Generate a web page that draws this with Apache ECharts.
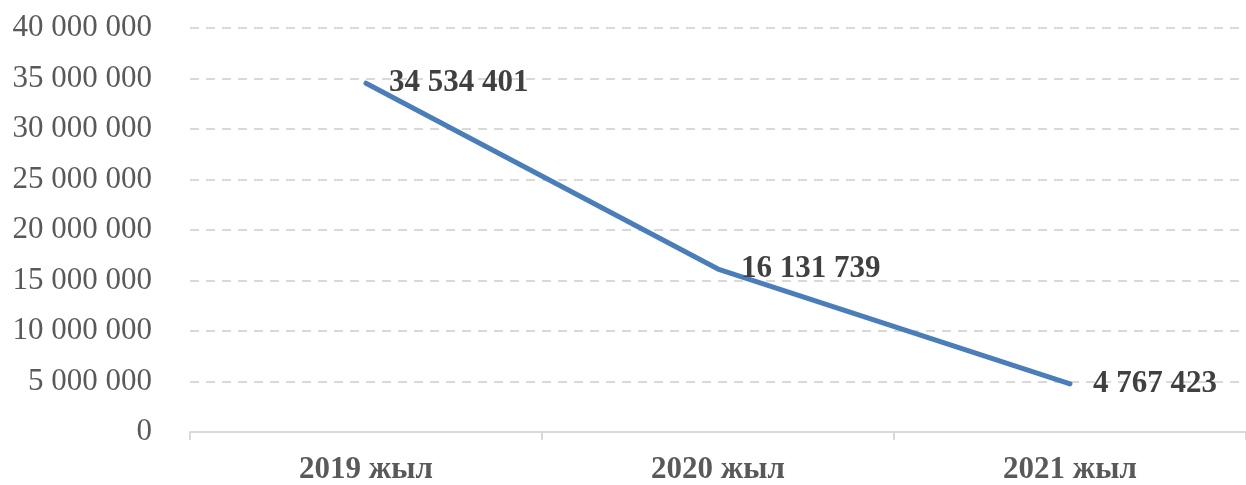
<!DOCTYPE html>
<html>
<head>
<meta charset="utf-8">
<script src="https://cdn.jsdelivr.net/npm/echarts@6/dist/echarts.min.js"></script>
<style>
  html, body { margin: 0; padding: 0; background: #fff; }
  #chart { width: 1246px; height: 485px; }
</style>
</head>
<body>
<div id="chart"></div>
<script>
const years = ["2019 жыл", "2020 жыл", "2021 жыл"];
const values = [34534401, 16131739, 4767423];

//format numbers with spaces as thousands separator
function spaced(n) {
    return String(n).replace(/\B(?=(\d{3})+(?!\d))/g, " ");
}

const chart = echarts.init(document.getElementById("chart"), null, { renderer: "canvas" });

const option = {
    animation: false,
    grid: { left: 190, right: -4, top: 28, bottom: 52 },
    xAxis: {
        type: "category",
        data: years,
        boundaryGap: true,
        axisLine: { lineStyle: { color: "#d9d9d9", width: 2 } },
        axisTick: { show: true, length: 8, lineStyle: { color: "#d9d9d9", width: 2 } },
        axisLabel: {
            margin: 22,
            color: "#595959",
            fontFamily: "Liberation Serif",
            fontWeight: "bold",
            fontSize: 31
        }
    },
    yAxis: {
        type: "value",
        min: 0,
        max: 40000000,
        interval: 5000000,
        axisLine: { show: false },
        axisTick: { show: false },
        axisLabel: {
            margin: 38,
            color: "#595959",
            fontFamily: "Liberation Serif",
            fontSize: 31,
            formatter: (v) => spaced(v)
        },
        splitLine: { lineStyle: { color: "#d9d9d9", width: 2, type: [9, 7] } }
    },
    series: [{
        type: "line",
        data: values,
        symbol: "circle",
        symbolSize: 2,
        showSymbol: true,
        itemStyle: { color: "rgba(0,0,0,0)", borderWidth: 0 },
        lineStyle: { color: "#4a7ebb", width: 5, cap: "round", join: "round" },
        label: {
            show: true,
            position: "right",
            distance: 22,
            color: "#404040",
            fontFamily: "Liberation Serif",
            fontWeight: "bold",
            fontSize: 31,
            formatter: (p) => spaced(p.value)
        },
        z: 3
    }]
};

chart.setOption(option);
</script>
</body>
</html>
